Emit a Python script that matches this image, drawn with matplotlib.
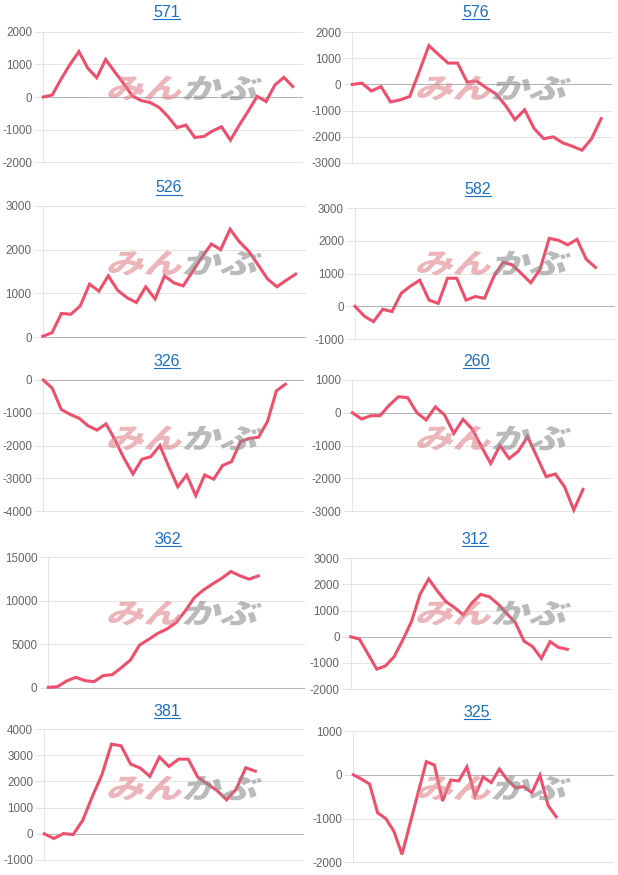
"""
Ten small P&L line charts (2 columns x 5 rows), each with a faint logo watermark.
"""
import matplotlib

matplotlib.use("Agg")
import matplotlib.pyplot as plt  # noqa: E402
from matplotlib.font_manager import FontProperties  # noqa: E402
from matplotlib.lines import Line2D  # noqa: E402
from matplotlib.patches import PathPatch  # noqa: E402
from matplotlib.textpath import TextPath  # noqa: E402
from matplotlib.transforms import Affine2D  # noqa: E402

W, H, DPI = 618, 875, 100

# chart titles, reading order (left -> right, top -> bottom)
TITLES = ["571", "576", "526", "582", "326", "260", "362", "312", "381", "325"]

# number of x-axis slots per chart (series may stop before the end)
X_SLOTS = [30, 28, 29, 29, 30, 29, 29, 31, 28, 33]

# y ticks: (min, max, step)
Y_TICKS = [
    (-2000, 2000, 1000), (-3000, 2000, 1000),
    (0, 3000, 1000), (-1000, 3000, 1000),
    (-4000, 0, 1000), (-3000, 1000, 1000),
    (0, 15000, 5000), (-2000, 3000, 1000),
    (-1000, 4000, 1000), (-2000, 1000, 1000),
]

P571 = [0, 60, 550, 1000, 1390, 880, 590, 1150, 775, 420, 30, -110, -170, -320, -600,
        -940, -860, -1240, -1210, -1040, -910, -1320, -860, -430, 20, -140, 370, 600, 320]
P576 = [0, 50, -250, -80, -670, -590, -460, 500, 1490, 1150, 820, 820, 90, 130, -130,
        -360, -800, -1350, -970, -1690, -2080, -2010, -2240, -2370, -2520, -2080, -1310]
P526 = [15, 100, 540, 520, 710, 1210, 1050, 1400, 1070, 900, 790, 1150, 870, 1400, 1240,
        1170, 1500, 1830, 2130, 2000, 2470, 2180, 1960, 1650, 1330, 1150, 1300, 1440]
P582 = [0, -300, -470, -90, -160, 400, 620, 800, 190, 90, 860, 860, 190, 300, 245,
        910, 1350, 1270, 1000, 720, 1130, 2080, 2020, 1880, 2050, 1440, 1190]
P326 = [0, -250, -900, -1050, -1170, -1400, -1530, -1340, -1830, -2390, -2870, -2420,
        -2340, -2000, -2650, -3260, -2900, -3530, -2900, -3030, -2610, -2490, -1880,
        -1780, -1750, -1270, -330, -130]
P260 = [0, -190, -90, -90, 230, 490, 460, 0, -220, 180, -70, -630, -200, -500, -1040,
        -1550, -1000, -1400, -1170, -730, -1340, -1950, -1870, -2260, -2970, -2340]
P362 = [80, 150, 800, 1230, 850, 730, 1420, 1530, 2330, 3220, 4940, 5590, 6280, 6780,
        7510, 8850, 10380, 11260, 11950, 12600, 13370, 12870, 12490, 12870]
P312 = [0, -90, -660, -1240, -1120, -770, -130, 570, 1620, 2210, 1750, 1340, 1110, 830,
        1300, 1620, 1530, 1250, 890, 540, -170, -380, -830, -190, -410, -480]
P381 = [0, -180, 10, -30, 510, 1420, 2250, 3420, 3360, 2660, 2510, 2190, 2930, 2570,
        2850, 2850, 2160, 1910, 1650, 1300, 1700, 2520, 2390]
P325 = [0, -100, -210, -870, -1000, -1290, -1820, -1110, -400, 300, 220, -600, -120,
        -140, 180, -480, -50, -180, 130, -120, -300, -270, -410, -10, -700, -960]

SERIES = [P571, P576, P526, P582, P326, P260, P362, P312, P381, P325]

# --- layout (image pixels, y measured from top) ---
# plot area per chart: left, top, right, bottom
BOXES = [
    (43.3, 31.7, 301.7, 162.3), (352.3, 32.3, 610.7, 162.7),
    (42.7, 206.0, 305.0, 337.0), (355.0, 208.3, 614.0, 339.0),
    (43.3, 380.0, 303.3, 511.0), (352.3, 380.0, 610.7, 511.0),
    (48.3, 557.3, 304.0, 688.0), (350.7, 558.3, 610.7, 689.0),
    (44.3, 729.0, 303.3, 860.0), (353.3, 731.0, 613.0, 862.3),
]
TITLE_X = [166.7, 475.7, 169, 478, 167, 476, 168, 475, 167, 477]
TITLE_Y = [12.7, 12.7, 188, 189, 361.7, 361.7, 539, 539, 711.5, 712.5]

LINE_COLOR = "#ee4f6d"
GRID_COLOR = "#e4e4e4"
ZERO_COLOR = "#b4b4b4"
TICK_COLOR = "#666666"
TITLE_COLOR = "#1b6ec2"
FONT = "Liberation Sans"
WM_FONT = FontProperties(family="Noto Sans CJK JP", weight="heavy")


def add_watermark(fig, cx, cy):
    """Skewed two-tone 'みんかぶ' logo centred at (cx, cy) image pixels."""
    pieces = [("みん", "#df848c"), ("かぶ", "#8c8c8c")]
    paths = [TextPath((0, 0), t, size=31, prop=WM_FONT) for t, _ in pieces]
    sx, sy = 1.22, 0.9
    gap = 3
    widths = [p.get_extents().width * sx for p in paths]
    x = cx - (sum(widths) + gap) / 2
    ybase = H - cy
    for (_, col), p, w in zip(pieces, paths, widths):
        ext = p.get_extents()
        tr = (Affine2D()
              .translate(-ext.x0, -(ext.y0 + ext.height / 2))
              .scale(sx, sy)
              .skew_deg(18, 0)
              .translate(x, ybase))
        fig.add_artist(PathPatch(p, transform=tr, facecolor=col, edgecolor="none",
                                 alpha=0.6, zorder=5))
        x += w + gap


fig = plt.figure(figsize=(W / DPI, H / DPI), dpi=DPI)
fig.patch.set_facecolor("white")

title_texts = []
for i, (title, vals, slots, (ymin, ymax, step), box) in enumerate(
        zip(TITLES, SERIES, X_SLOTS, Y_TICKS, BOXES)):
    l, t, r, b = box
    ax = fig.add_axes([l / W, 1 - b / H, (r - l) / W, (b - t) / H])
    ax.set_xlim(0, slots - 1)
    ax.set_ylim(ymin, ymax)
    ticks = list(range(ymin, ymax + 1, step))
    ax.set_yticks(ticks)
    ax.set_yticklabels([str(v) for v in ticks], fontfamily=FONT, fontsize=8.4,
                       color=TICK_COLOR)
    ax.set_xticks([])
    ax.tick_params(axis="y", length=6.5, width=0.75, color=GRID_COLOR, pad=1.5)
    for side in ("top", "right", "bottom"):
        ax.spines[side].set_visible(False)
    ax.spines["left"].set_color(GRID_COLOR)
    ax.spines["left"].set_linewidth(0.75)

    for v in ticks:
        ax.axhline(v, color=ZERO_COLOR if v == 0 else GRID_COLOR, lw=0.75,
                   zorder=1, clip_on=False)

    ax.plot(range(len(vals)), vals, color=LINE_COLOR, lw=2.2, zorder=3,
            solid_joinstyle="miter", clip_on=False)

    col = i % 2
    row = i // 2
    add_watermark(fig, col * 309 + 185, row * 175 + 88)

    txt = fig.text(TITLE_X[i] / W, 1 - TITLE_Y[i] / H, title, ha="center", va="center",
                   fontfamily=FONT, fontsize=11.5, color=TITLE_COLOR)
    title_texts.append(txt)

# underline the titles (they are links in the source page)
fig.canvas.draw()
renderer = fig.canvas.get_renderer()
for txt in title_texts:
    bb = txt.get_window_extent(renderer)
    y = bb.y0 + 1.0
    fig.add_artist(Line2D([bb.x0 / W, bb.x1 / W], [y / H, y / H],
                          color=TITLE_COLOR, lw=0.8))

fig.savefig("out.png", dpi=DPI, facecolor="white")
